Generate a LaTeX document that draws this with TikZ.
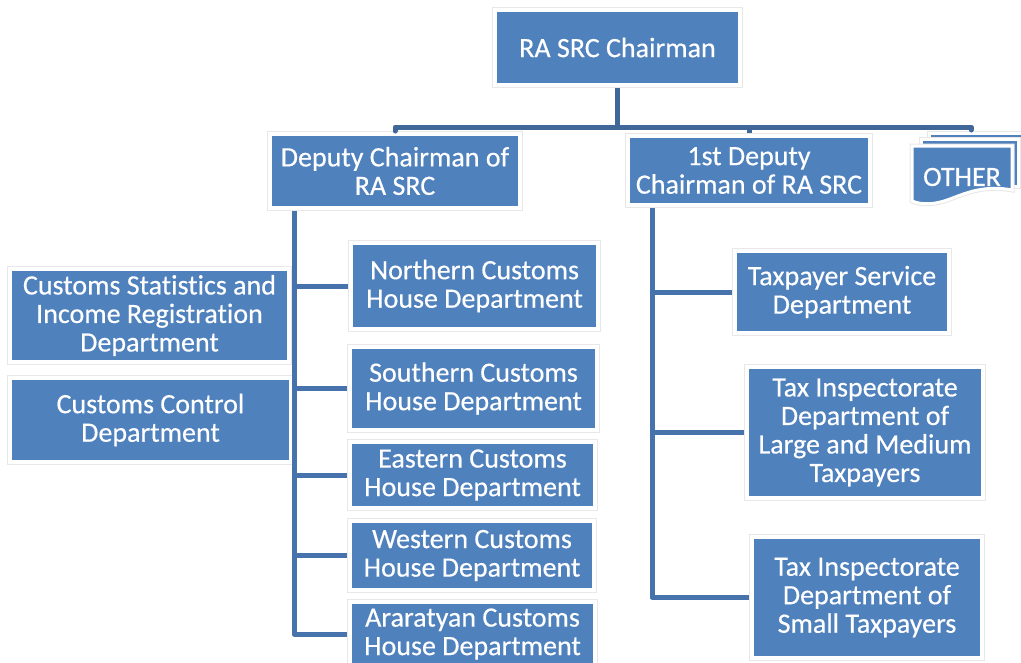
\documentclass[tikz,border=0pt]{standalone}
\usepackage{fontspec}
\setmainfont{Carlito}[Ligatures=NoCommon, FakeBold=0.4]
\usetikzlibrary{calc}
\definecolor{boxblue}{HTML}{4F81BD}
\definecolor{linkblue}{HTML}{4673AB}
\definecolor{trunkblue}{HTML}{3F6898}
\begin{document}
\begin{tikzpicture}[x=1pt,y=-1pt,
  lbl/.style={font=\fontsize{28}{28.5}\selectfont},
  unit/.style={rectangle, fill=boxblue, draw=white, line width=3.5pt,
    preaction={draw=black!9, line width=5.5pt},
    text=white, align=center, inner sep=0pt, outer sep=3pt, lbl},
  page/.style={fill=boxblue, draw=white, line width=3pt,
    preaction={draw=black!9, line width=5pt}},
  link/.style={draw=linkblue, line width=5pt, line join=round},
  toplink/.style={link, draw=trunkblue}]
\useasboundingbox (0,0) rectangle (1021,662);

% top level
\node[unit, minimum width=245pt, minimum height=75pt] (chair) at (617.5,47.5) {RA SRC Chairman};
\node[unit, minimum width=250pt, minimum height=74pt] (dep) at (395,171) {Deputy Chairman of\\RA SRC};
\node[unit, minimum width=242pt, minimum height=69pt] (first) at (749,170.5) {1st Deputy\\Chairman of RA SRC};

% stacked documents
\path[page] (929,133) rectangle (1026,178);
\path[page] (921,139) rectangle (1018,186);
\path[page] (912,146) -- (1012,146) -- (1012,190)
  .. controls (986,185) and (968,192) .. (950,199)
  .. controls (934,205) and (922,205) .. (912,201) -- cycle;
\node[text=white, lbl] (other) at (962,177) {OTHER};
\coordinate (othertop) at (971,130);

% customs side
\node[unit, minimum width=279pt, minimum height=93pt] (stat) at (149.5,315.5) {Customs Statistics and\\Income Registration\\Department};
\node[unit, minimum width=281pt, minimum height=84pt] (ctrl) at (150.5,420) {Customs Control\\Department};
\node[unit, minimum width=247pt, minimum height=86pt] (nch) at (474.5,286) {Northern Customs\\House Department};
\node[unit, minimum width=247pt, minimum height=83pt] (sch) at (473.5,388.5) {Southern Customs\\House Department};
\node[unit, minimum width=245pt, minimum height=66pt] (ech) at (472.5,475) {Eastern Customs\\House Department};
\node[unit, minimum width=244pt, minimum height=69pt] (wch) at (472,555.5) {Western Customs\\House Department};
\node[unit, minimum width=245pt, minimum height=64pt] (ach) at (472.5,634) {Araratyan Customs\\House Department};

% tax side
\node[unit, minimum width=214pt, minimum height=82pt] (svc) at (842,292) {Taxpayer Service\\Department};
\node[unit, minimum width=236pt, minimum height=131pt] (large) at (865,432.5) {Tax Inspectorate\\Department of\\Large and Medium\\Taxpayers};
\node[unit, minimum width=230pt, minimum height=121pt] (small) at (867,597.5) {Tax Inspectorate\\Department of\\Small Taxpayers};

% connectors
\coordinate (barY) at (0,127);
\coordinate (spineL) at (294,0);
\coordinate (spineR) at (652,0);

\draw[toplink] (chair.south) -- (chair.south |- barY);
\draw[toplink, line cap=round] (dep.north) -- (dep.north |- barY) -- (othertop |- barY) -- (othertop);
\draw[toplink] (first.north) -- (first.north |- barY);

\draw[link] (dep.south -| spineL) |- (ach.west);
\foreach \b in {nch,sch,ech,wch}
  \draw[link] (spineL |- \b.west) -- (\b.west);

\draw[link] (first.south -| spineR) |- (small.west);
\draw[link] (spineR |- svc.west) -- (svc.west);
\draw[link] (spineR |- large.west) -- (large.west);
\end{tikzpicture}
\end{document}
